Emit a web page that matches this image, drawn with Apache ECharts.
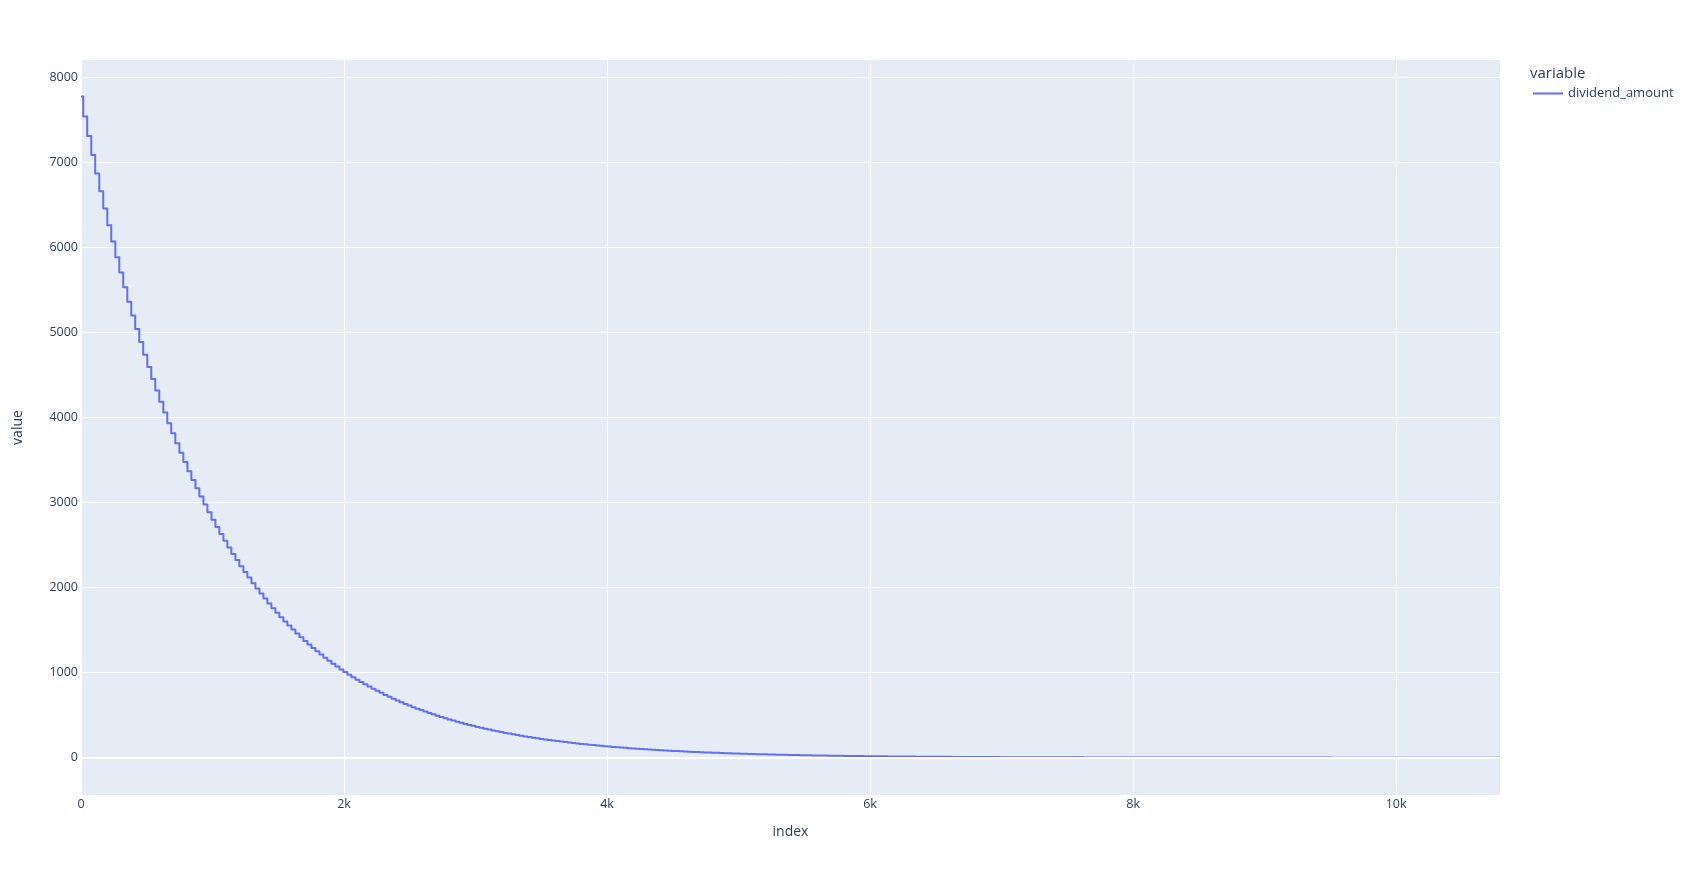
<!DOCTYPE html>
<html>
<head>
<meta charset="utf-8">
<script src="https://cdn.jsdelivr.net/npm/echarts/dist/echarts.min.js"></script>
<style>
html,body{margin:0;padding:0;background:#fff;}
#chart{width:1691px;height:875px;}
</style>
</head>
<body>
<div id="chart"></div>
<script>
// Step start positions (index) of each dividend level
var stepIndex = [0,
17,47,78,108,139,169,200,230,261,291,321,352,
382,412,443,473,504,534,565,595,626,656,686,717,
748,778,809,839,870,900,931,961,992,1022,1052,1083,
1113,1143,1174,1204,1235,1265,1296,1326,1357,1387,1417,1448,
1478,1508,1539,1569,1600,1630,1661,1691,1722,1752,1782,1813,
1843,1873,1904,1934,1965,1995,2026,2056,2087,2117,2147,2178,
2209,2239,2270,2300,2331,2361,2392,2422,2453,2483,2513,2544,
2574,2604,2635,2665,2696,2726,2757,2787,2818,2848,2878,2909,
2939,2969,3000,3030,3061,3091,3122,3152,3183,3213,3243,3274,
3304,3334,3365,3395,3426,3456,3487,3517,3548,3578,3608,3639,
3670,3700,3731,3761,3792,3822,3853,3883,3914,3944,3974,4005,
4035,4065,4096,4126,4157,4187,4218,4248,4279,4309,4339,4370,
4400,4430,4461,4491,4522,4552,4583,4613,4644,4674,4704,4735,
4765,4795,4826,4856,4887,4917,4948,4978,5009,5039,5069,5100,
5131,5161,5192,5222,5253,5283,5314,5344,5375,5405,5435,5466,
5496,5526,5557,5587,5618,5648,5679,5709,5740,5770,5800,5831,
5861,5891,5922,5952,5983,6013,6044,6074,6105,6135,6165,6196,
6226,6256,6287,6317,6348,6378,6409,6439,6470,6500,6530,6561,
6592,6622,6653,6683,6714,6744,6775,6805,6836,6866,6896,6927,
6957,6987,7018,7048,7079,7109,7140,7170,7201,7231,7261,7292,
7322,7352,7383,7413,7444,7474,7505,7535,7566,7596,7626,7657,
7687,7717,7748,7778,7809,7839,7870,7900,7931,7961,7991,8022,
8053,8083,8114,8144,8175,8205,8236,8266,8297,8327,8357,8388,
8418,8448,8479,8509,8540,8570,8601,8631,8662,8692,8722,8753,
8783,8813,8844,8874,8905,8935,8966,8996,9027,9057,9087,9118,
9148,9178,9209,9239,9270,9300,9331,9361,9392,9422,9452,9483,
9514,9544,9575,9605,9636,9666,9697,9727,9758,9788,9818,9849,
9879,9909,9940,9970,10001,10031,10062,10092,10123,10153,10183,10214,
10244,10274,10305,10335,10366,10396,10427,10457,10488,10518,10548,10579,
10609,10639,10670,10700,10731,10761];
var lastIndex = 10790;

// dividend_amount level for each step
var dividendAmount = [7775,
7538,7308,7085,6869,6660,6456,6260,6069,5884,5704,
5530,5361,5198,5039,4886,4737,4592,4452,4316,4185,
4057,3933,3813,3697,3584,3475,3369,3266,3167,3070,
2976,2886,2798,2712,2630,2549,2472,2396,2323,2252,
2184,2117,2052,1990,1929,1870,1813,1758,1704,1652,
1602,1553,1506,1460,1415,1372,1330,1290,1250,1212,
1175,1139,1105,1071,1038,1007,976,946,917,889,
862,836,810,786,762,738,716,694,673,652,
632,613,594,576,559,542,525,509,494,479,
464,450,436,423,410,397,385,374,362,351,
340,330,320,310,301,291,283,274,266,257,
250,242,235,227,220,214,207,201,195,189,
183,178,172,167,162,157,152,148,143,139,
134.4,130.3,126.3,122.5,118.7,115.1,111.6,108.2,104.9,101.7,
98.6,95.6,92.7,89.8,87.1,84.4,81.9,79.4,77.0,74.6,
72.3,70.1,68.0,65.9,63.9,62.0,60.1,58.2,56.5,54.7,
53.1,51.5,49.9,48.4,46.9,45.5,44.1,42.7,41.4,40.2,
39.0,37.8,36.6,35.5,34.4,33.4,32.4,31.4,30.4,29.5,
28.6,27.7,26.9,26.1,25.3,24.5,23.8,23.0,22.3,21.7,
21.0,20.4,19.7,19.1,18.6,18.0,17.4,16.9,16.4,15.9,
15.4,14.9,14.5,14.0,13.6,13.2,12.8,12.4,12.0,11.7,11.3,11.0,10.6,10.3,10.0,9.7,9.4,9.1,8.8,8.5,
8.3,8.0,7.8,7.5,7.3,7.1,6.9,6.7,6.5,6.3,6.1,5.9,5.7,5.5,5.4,5.2,5.0,4.9,4.7,4.6,
4.5,4.3,4.2,4.1,3.9,3.8,3.7,3.6,3.5,3.4,3.3,3.2,3.1,3.0,2.9,2.8,2.7,2.6,2.5,2.5,
2.4,2.3,2.2,2.2,2.1,2.0,2.0,1.9,1.8,1.8,1.7,1.7,1.6,1.6,1.5,1.5,1.4,1.4,1.4,1.3,
1.3,1.2,1.2,1.2,1.1,1.1,1.1,1.0,1.0,1.0,0.9,0.9,0.9,0.8,0.8,0.8,0.8,0.7,0.7,0.7,
0.7,0.6,0.6,0.6,0.6,0.6,0.5,0.5,0.5,0.5,0.5,0.5,0.4,0.4,0.4,0.4,0.4,0.4,0.4,0.4,
0.35,0.34,0.33,0.32,0.31,0.3,0.29,0.28,0.27,0.26,0.25,0.25,0.24,0.23,0.22,0.22,0.21,0.2,0.2,0.19,
0.18,0.18,0.17,0.17,0.16,0.16,0.15,0.15,0.14,0.14,0.13,0.13,0.13,0.12];

var yTicks = [0,1000,2000,3000,4000,5000,6000,7000,8000];
var xTicks = [0,2000,4000,6000,8000,10000];
var seriesName = 'dividend_amount';
var legendTitle = 'variable';
var xTitle = 'index';
var yTitle = 'value';

var n = Math.min(stepIndex.length, dividendAmount.length);
var pts = [];
for (var i = 0; i < n; i++) pts.push([stepIndex[i], dividendAmount[i]]);
pts.push([lastIndex, dividendAmount[n - 1]]);

var FONT = '"Open Sans", verdana, arial, sans-serif';
var TXT = '#2a3f5f';
var LINE = '#636efa';

// Draw the whole step path as one polyline, positioned through the axis scales
function renderSteps(params, api) {
  if (params.dataIndex !== 0) return null;
  var p = [];
  for (var j = 0; j < pts.length; j++) {
    var c = api.coord([pts[j][0], pts[j][1]]);
    if (j > 0) {
      var h = api.coord([pts[j][0], pts[j - 1][1]]);
      p.push(h);
    }
    p.push(c);
  }
  return {
    type: 'polyline',
    shape: {points: p},
    style: {stroke: LINE, lineWidth: 2, fill: null, lineJoin: 'round'},
    silent: true
  };
}

var chart = echarts.init(document.getElementById('chart'), null, {renderer: 'canvas'});
chart.setOption({
  animation: false,
  backgroundColor: '#ffffff',
  textStyle: {fontFamily: FONT, color: TXT},
  grid: {left: 81, right: 191, top: 60, bottom: 80, show: true, backgroundColor: '#E5ECF6', borderWidth: 0, containLabel: false},
  graphic: [{
    type: 'text', left: 1530, top: 66,
    style: {text: legendTitle, font: '15px ' + FONT, fill: TXT}
  }],
  legend: {
    show: true, left: 1528, top: 82, orient: 'vertical',
    icon: 'rect', itemWidth: 30, itemHeight: 2,
    textStyle: {fontFamily: FONT, fontSize: 13, color: TXT},
    data: [seriesName]
  },
  xAxis: {
    type: 'value', min: 0, max: lastIndex, interval: 2000,
    name: xTitle, nameLocation: 'middle', nameGap: 30,
    nameTextStyle: {fontFamily: FONT, fontSize: 14, color: TXT},
    axisLine: {show: false}, axisTick: {show: false},
    axisLabel: {color: TXT, fontFamily: FONT, fontSize: 12.5, margin: 3,
      showMaxLabel: false,
      formatter: function (v) { return v === 0 ? '0' : (v / 1000) + 'k'; }},
    splitLine: {show: true, lineStyle: {color: '#ffffff', width: 1}}
  },
  yAxis: {
    type: 'value', min: -439, max: 8203,
    name: yTitle, nameLocation: 'middle', nameGap: 56,
    nameTextStyle: {fontFamily: FONT, fontSize: 14, color: TXT},
    axisLine: {show: false},
    axisTick: {show: false, customValues: yTicks},
    axisLabel: {color: TXT, fontFamily: FONT, fontSize: 12.5, margin: 3, customValues: yTicks,
      formatter: function (v) { return String(v); }},
    splitLine: {show: true, lineStyle: {color: '#ffffff', width: 1}}
  },
  series: [{
    type: 'line', name: '__zero', data: [], silent: true, z: 1,
    markLine: {silent: true, symbol: ['none', 'none'], label: {show: false},
      lineStyle: {color: '#ffffff', width: 2, type: 'solid'},
      data: [{yAxis: 0}]}
  }, {
    type: 'custom', name: seriesName, data: pts, z: 3,
    encode: {x: 0, y: 1},
    renderItem: renderSteps,
    itemStyle: {color: LINE}
  }]
});
</script>
</body>
</html>
